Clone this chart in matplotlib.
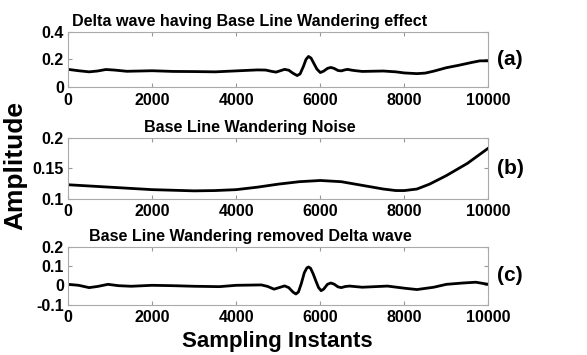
import matplotlib.pyplot as plt
import numpy as np

plt.rcParams['font.family'] = ['Liberation Sans', 'DejaVu Sans']
plt.rcParams['font.weight'] = 'bold'

# Panel (a): delta wave with base line wandering
xa = [0, 250, 500, 700, 900, 1100, 1400, 1700, 2000, 2500, 3000, 3500, 4000, 4500, 4700,
      4850, 4950, 5050, 5150, 5250, 5350, 5450, 5520, 5600, 5660, 5720, 5780, 5850, 5920,
      6000, 6080, 6170, 6250, 6330, 6420, 6500, 6580, 6650, 6750, 6850, 7000, 7500, 7800,
      8000, 8300, 8500, 8700, 9000, 9300, 9600, 9800, 10000]
ya = [0.128, 0.118, 0.110, 0.116, 0.127, 0.123, 0.114, 0.116, 0.118, 0.113, 0.112, 0.110,
      0.117, 0.124, 0.123, 0.113, 0.108, 0.118, 0.128, 0.122, 0.100, 0.083, 0.095, 0.150,
      0.200, 0.222, 0.210, 0.170, 0.130, 0.105, 0.115, 0.135, 0.142, 0.135, 0.120, 0.117,
      0.124, 0.128, 0.122, 0.118, 0.113, 0.116, 0.110, 0.102, 0.097, 0.101, 0.115, 0.140,
      0.158, 0.178, 0.190, 0.190]

# Panel (b): base line wandering noise
xb = [0, 500, 1000, 1500, 2000, 2500, 3000, 3500, 4000, 4500, 5000, 5500, 6000, 6500,
      7000, 7500, 7800, 8000, 8300, 8600, 9000, 9500, 10000]
yb = [0.123, 0.121, 0.119, 0.117, 0.115, 0.114, 0.113, 0.1135, 0.115, 0.119, 0.124, 0.128,
      0.130, 0.128, 0.122, 0.116, 0.1135, 0.1135, 0.116, 0.124, 0.138, 0.158, 0.183]

# Panel (c): base line wandering removed
xc = [0, 250, 500, 700, 950, 1200, 1500, 2000, 2500, 3000, 3600, 4000, 4600, 4750, 4900,
      5050, 5150, 5250, 5350, 5420, 5480, 5550, 5620, 5680, 5720, 5770, 5830, 5900, 5960,
      6020, 6080, 6170, 6250, 6330, 6420, 6500, 6600, 6700, 7000, 7600, 8000, 8300, 8700,
      9000, 9400, 9700, 10000]
yc = [0.005, 0.0, -0.012, -0.006, 0.005, -0.002, -0.005, 0.0, -0.002, -0.005, -0.007, 0.0,
      0.002, -0.006, -0.020, -0.010, -0.003, -0.012, -0.035, -0.045, -0.035, 0.010, 0.065,
      0.090, 0.095, 0.088, 0.060, 0.020, -0.012, -0.028, -0.020, 0.005, 0.012, 0.006,
      -0.008, -0.012, -0.006, -0.004, -0.010, -0.004, -0.015, -0.022, -0.010, 0.005, 0.012,
      0.016, 0.005]

titles = ['Delta wave having Base Line Wandering effect',
          'Base Line Wandering Noise',
          'Base Line Wandering removed Delta wave']
tags = ['(a)', '(b)', '(c)']
yticks = [[0, 0.2, 0.4], [0.1, 0.15, 0.2], [-0.1, 0, 0.1, 0.2]]
yticklabels = [['0', '0.2', '0.4'], ['0.1', '0.15', '0.2'], ['-0.1', '0', '0.1', '0.2']]
xticks = [0, 2000, 4000, 6000, 8000, 10000]

fig = plt.figure(figsize=(5.87, 3.55), dpi=100)
rects = [[0.116, 0.755, 0.716, 0.155],
         [0.116, 0.440, 0.716, 0.172],
         [0.116, 0.142, 0.716, 0.163]]
data = [(xa, ya), (xb, yb), (xc, yc)]

for i, (rect, (x, y)) in enumerate(zip(rects, data)):
    ax = fig.add_axes(rect)
    ax.plot(x, y, color='black', lw=2.0, solid_joinstyle='round')
    ax.set_xlim(0, 10000)
    ax.set_ylim(yticks[i][0], yticks[i][-1])
    ax.set_xticks(xticks)
    ax.set_xticklabels([str(t) for t in xticks], fontsize=11.5, fontweight='bold')
    ax.set_yticks(yticks[i])
    ax.set_yticklabels(yticklabels[i], fontsize=11.5, fontweight='bold')
    ax.tick_params(direction='in', top=True, right=True, color='#999999', length=3)
    ax.tick_params(axis='x', pad=4)
    ax.tick_params(axis='y', pad=3)
    for s in ax.spines.values():
        s.set_color('#aaaaaa')
        s.set_linewidth(0.8)
    ax.set_title(titles[i], x=0.433, fontsize=11.6, fontweight='bold', pad=4)
    ax.text(1.02, 0.5, tags[i], transform=ax.transAxes, fontsize=15,
            fontweight='bold', va='center', ha='left')

fig.text(0.026, 0.535, 'Amplitude', rotation=90, fontsize=19, fontweight='bold',
         va='center', ha='center')
fig.text(0.472, 0.038, 'Sampling Instants', fontsize=16, fontweight='bold',
         va='center', ha='center')

plt.savefig('out.png', dpi=100)
